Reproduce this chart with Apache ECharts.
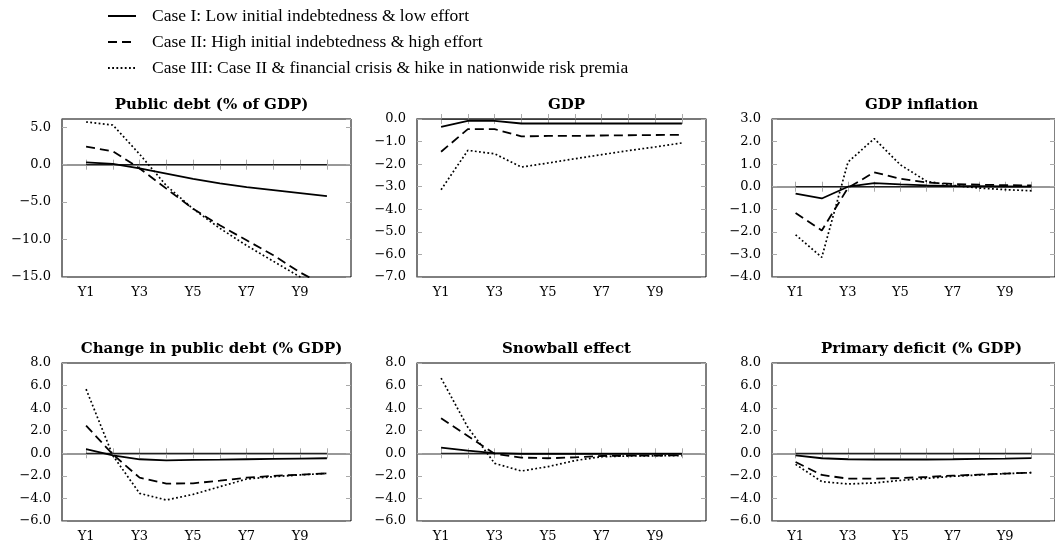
<!DOCTYPE html>
<html><head><meta charset="utf-8">
<script src="https://cdn.jsdelivr.net/npm/echarts@6/dist/echarts.min.js"></script>
<style>html,body{margin:0;padding:0;background:#fff}#c{width:1055px;height:547px}</style>
</head><body><div id="c"></div><script>
const years = ['Y1','Y2','Y3','Y4','Y5','Y6','Y7','Y8','Y9','Y10'];
const xTickLabels = ['Y1','Y3','Y5','Y7','Y9'];
const caseNames = [
  'Case I: Low initial indebtedness & low effort',
  'Case II: High initial indebtedness & high effort',
  'Case III: Case II & financial crisis & hike in nationwide risk premia'
];
const panelTitles = ['Public debt (% of GDP)','GDP','GDP inflation','Change in public debt (% GDP)','Snowball effect','Primary deficit (% GDP)'];

// Public debt (% of GDP)
const debtI   = [0.3, 0.1, -0.5, -1.2, -1.9, -2.5, -3.0, -3.4, -3.8, -4.2];
const debtII  = [2.4, 1.8, -0.5, -3.2, -5.9, -8.1, -10.1, -12.1, -14.4, -16.3];
const debtIII = [5.7, 5.3, 1.4, -2.8, -5.9, -8.5, -10.8, -12.9, -15.0, -17.0];
// GDP
const gdpI   = [-0.35, -0.08, -0.08, -0.2, -0.2, -0.2, -0.2, -0.2, -0.2, -0.2];
const gdpII  = [-1.45, -0.45, -0.45, -0.77, -0.75, -0.75, -0.73, -0.72, -0.71, -0.7];
const gdpIII = [-3.13, -1.39, -1.54, -2.13, -1.95, -1.76, -1.58, -1.4, -1.24, -1.06];
// GDP inflation
const inflI   = [-0.31, -0.52, 0.0, 0.16, 0.1, 0.06, 0.03, 0.02, 0.01, 0.0];
const inflII  = [-1.17, -1.94, -0.05, 0.64, 0.35, 0.19, 0.12, 0.09, 0.07, 0.06];
const inflIII = [-2.13, -3.13, 1.09, 2.13, 0.97, 0.24, 0.06, -0.06, -0.13, -0.18];
// Change in public debt (% GDP)
const chgI   = [0.36, -0.18, -0.53, -0.62, -0.59, -0.57, -0.53, -0.5, -0.47, -0.44];
const chgII  = [2.46, -0.1, -2.16, -2.69, -2.66, -2.43, -2.16, -2.0, -1.9, -1.78];
const chgIII = [5.68, -0.2, -3.55, -4.14, -3.64, -2.96, -2.28, -2.07, -1.92, -1.78];
// Snowball effect
const snowI   = [0.5, 0.24, 0.02, -0.05, -0.05, -0.05, -0.05, -0.05, -0.05, -0.05];
const snowII  = [3.1, 1.54, -0.05, -0.38, -0.44, -0.36, -0.24, -0.21, -0.2, -0.18];
const snowIII = [6.66, 2.3, -0.89, -1.57, -1.18, -0.65, -0.3, -0.24, -0.22, -0.2];
// Primary deficit (% GDP)
const primI   = [-0.18, -0.44, -0.53, -0.55, -0.55, -0.55, -0.53, -0.5, -0.47, -0.42];
const primII  = [-0.77, -1.92, -2.25, -2.25, -2.19, -2.1, -1.98, -1.89, -1.8, -1.72];
const primIII = [-0.98, -2.51, -2.72, -2.63, -2.4, -2.22, -2.04, -1.92, -1.8, -1.72];

const zeroLine = [0,0,0,0,0,0,0,0,0,0];
const yMin  = [-15, -7, -4, -6, -6, -6];
const yMax  = [6.1, 0, 3, 8, 8, 8];
const yStep = [5, 1, 1, 2, 2, 2];

const panels = [
  [debtI, debtII, debtIII], [gdpI, gdpII, gdpIII], [inflI, inflII, inflIII],
  [chgI, chgII, chgIII], [snowI, snowII, snowIII], [primI, primII, primIII]
];

const gridLeft = [62, 417, 772];
const gridTop = [119, 363];
const gW = 289, gH = 158;
const serif = 'DejaVu Serif';

const xPos = years.map((y, i) => i + 1);
const xLabelPos = xTickLabels.map(l => years.indexOf(l) + 1);
const fmtY = v => (v < 0 ? '\u2212' + Math.abs(v).toFixed(1) : v.toFixed(1));

const grid = [], xAxis = [], yAxis = [], series = [], title = [];
const styles = [
  {type: 'solid', width: 1.8},
  {type: [9, 5], width: 1.8},
  {type: [1.8, 2.4], width: 1.7}
];

panels.forEach((p, k) => {
  const col = k % 3, row = Math.floor(k / 3);
  grid.push({left: gridLeft[col], top: gridTop[row], width: gW, height: gH,
    show: true, borderColor: '#000', borderWidth: 1, backgroundColor: 'transparent'});
  title.push({text: panelTitles[k], left: gridLeft[col] + gW / 2, textAlign: 'center',
    top: row === 0 ? 93 : 337,
    textStyle: {fontFamily: serif, fontWeight: 'bold', fontSize: 15, color: '#000'}});
  const xBase = {type: 'value', gridIndex: k, min: 0.1, max: 10.9,
    splitLine: {show: false}};
  xAxis.push(Object.assign({}, xBase, {position: 'bottom',
    axisLine: {show: true, lineStyle: {color: '#777', width: 1.5}},
    axisTick: {show: true, inside: true, length: 5, customValues: xPos, lineStyle: {color: '#aaa'}},
    axisLabel: {show: true, customValues: xLabelPos, formatter: v => years[v - 1], margin: 9,
      fontFamily: serif, fontSize: 13, color: '#000'}}));
  xAxis.push(Object.assign({}, xBase, {position: 'top',
    axisLine: {show: false},
    axisTick: {show: true, inside: true, length: 5, customValues: xPos, lineStyle: {color: '#aaa'}},
    axisLabel: {show: false}}));
  const yBase = {type: 'value', gridIndex: k, min: yMin[k], max: yMax[k], interval: yStep[k],
    splitLine: {show: false}};
  yAxis.push(Object.assign({}, yBase, {position: 'left',
    axisLine: {show: true, lineStyle: {color: '#777', width: 1.5}},
    axisTick: {show: true, inside: true, length: 5, lineStyle: {color: '#aaa'}},
    axisLabel: {show: true, formatter: fmtY, showMaxLabel: yMax[k] % yStep[k] === 0, margin: 11,
      fontFamily: serif, fontSize: 13, color: '#000'}}));
  yAxis.push(Object.assign({}, yBase, {position: 'right',
    axisLine: {show: false},
    axisTick: {show: true, inside: true, length: 5, lineStyle: {color: '#aaa'}},
    axisLabel: {show: false}}));
  series.push({type: 'line', name: 'zero', xAxisIndex: 2 * k, yAxisIndex: 2 * k,
    data: zeroLine.map((v, i) => [xPos[i], v]), symbol: 'none', silent: true,
    itemStyle: {color: '#000'}, lineStyle: {color: '#000', width: 1}});
  p.forEach((arr, j) => {
    series.push({type: 'line', name: caseNames[j], xAxisIndex: 2 * k, yAxisIndex: 2 * k,
      data: arr.map((v, i) => [xPos[i], v]), symbol: 'none', clip: true,
      itemStyle: {color: '#000'},
      lineStyle: Object.assign({color: '#000', cap: 'butt'}, styles[j])});
  });
});

const chart = echarts.init(document.getElementById('c'), null, {renderer: 'canvas'});
chart.setOption({
  animation: false,
  backgroundColor: '#fff',
  title: title,
  legend: {data: caseNames, orient: 'vertical', left: 102, top: 2, itemWidth: 28, itemHeight: 14,
    itemGap: 8, selectedMode: false,
    itemStyle: {opacity: 0},
    textStyle: {fontFamily: 'Liberation Serif', fontSize: 17.5, color: '#000', padding: [0, 0, 0, 11]}},
  grid: grid, xAxis: xAxis, yAxis: yAxis, series: series
});
</script></body></html>
